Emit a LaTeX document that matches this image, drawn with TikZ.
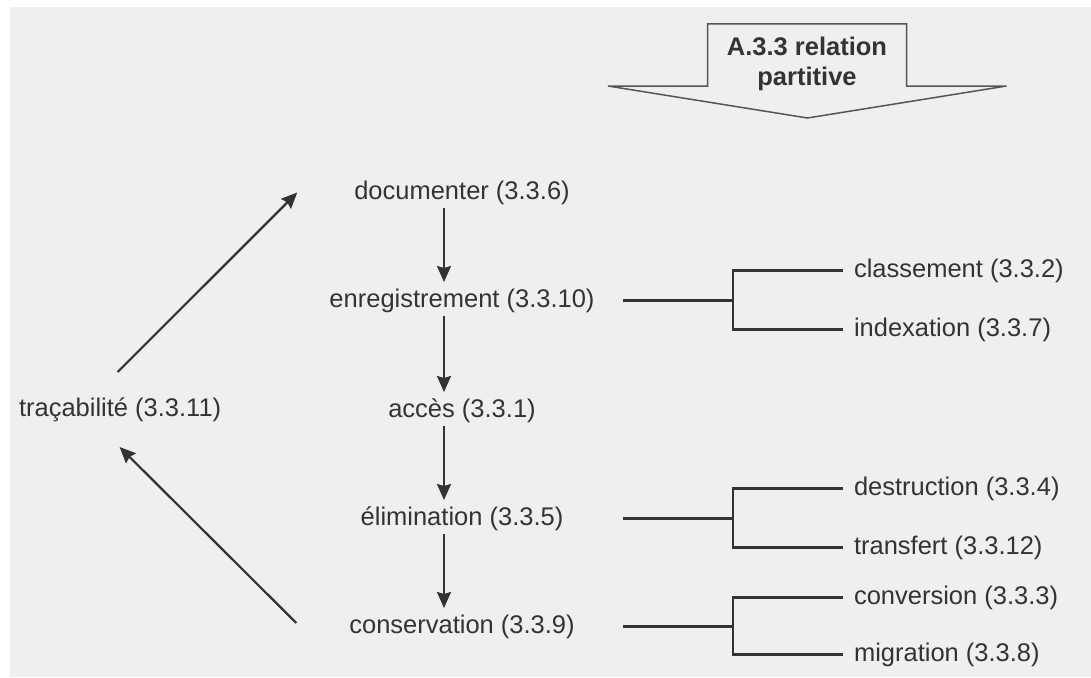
\documentclass[tikz,border=0pt]{standalone}
\usepackage{fontspec}
\setmainfont{Liberation Sans}
\usetikzlibrary{arrows.meta}
\definecolor{bg}{HTML}{EFEFEF}
\definecolor{ink}{HTML}{333333}
\definecolor{rim}{HTML}{555555}

\begin{document}
\begin{tikzpicture}[x=1pt,y=-1pt,
  lbl/.style={text=ink, font=\fontsize{25.5}{30}\selectfont, inner sep=0pt, outer sep=0pt,
              text height=18pt, text depth=5pt},
  leaf/.style={lbl, anchor=west, inner xsep=11pt},
  flow/.style={draw=ink, line width=2.2pt, -{Stealth[length=16pt,width=14pt,inset=2pt]}},
  tree/.style={draw=ink, line width=2.3pt},
  banner/.style={draw=rim, line width=1.5pt, fill=bg, line join=miter}]

% page and panel
\fill[white] (0,0) rectangle (1091,677);
\fill[bg] (10,7) rectangle (1091,677);
\useasboundingbox (0,0) rectangle (1091,677);

% heading arrow
\draw[banner] (707.5,24) -- (906.5,24) -- (906.5,86) -- (1006.5,86) -- (807.5,118)
  -- (608,86) -- (707.5,86) -- cycle;
\node[text=ink, font=\fontsize{25.5}{30}\selectfont\bfseries, align=center, inner sep=0pt]
  (head) at (807,63.5) {A.3.3 relation\\partitive};

% main sequence
\node[lbl] (doc)  at (462,192.5) {documenter (3.3.6)};
\node[lbl] (enr)  at (462,300.5) {enregistrement (3.3.10)};
\node[lbl] (acc)  at (462,410.5) {accès (3.3.1)};
\node[lbl] (elim) at (462,518.5) {élimination (3.3.5)};
\node[lbl] (cons) at (462,626.5) {conservation (3.3.9)};
\node[lbl, anchor=west] (tra) at (19,409.5) {traçabilité (3.3.11)};

% sub-terms
\node[leaf] (cla)  at (843,270.5) {classement (3.3.2)};
\node[leaf] (ind)  at (843,329.5) {indexation (3.3.7)};
\node[leaf] (des)  at (843,488.5) {destruction (3.3.4)};
\node[leaf] (trf)  at (843,547.5) {transfert (3.3.12)};
\node[leaf] (conv) at (843,597.5) {conversion (3.3.3)};
\node[leaf] (mig)  at (843,654.5) {migration (3.3.8)};

% bracket columns
\coordinate (bx) at (623,0);
\coordinate (bj) at (733,0);

% vertical flow
\foreach \a/\b in {doc/enr, enr/acc, acc/elim, elim/cons}
  \draw[flow, shorten <=4pt, shorten >=7pt] ([xshift=-18pt]\a.south) -- ([xshift=-18pt]\b.north);

% traceability loop
\draw[flow] ([xshift=-2.5pt, yshift=26pt]tra.north) -- ([xshift=-57pt]doc.west);
\draw[flow] ([xshift=-53pt, yshift=3.5pt]cons.west) -- ([xshift=-0.5pt, yshift=-26pt]tra.south);

% brackets
\draw[tree] (enr.east -| bx) -- (enr.east -| bj);
\draw[tree] (cla.west) -| (enr.east -| bj) |- (ind.west);
\draw[tree] (elim.east -| bx) -- (elim.east -| bj);
\draw[tree] (des.west) -| (elim.east -| bj) |- (trf.west);
\draw[tree] (cons.east -| bx) -- (cons.east -| bj);
\draw[tree] (conv.west) -| (cons.east -| bj) |- (mig.west);
\end{tikzpicture}
\end{document}
